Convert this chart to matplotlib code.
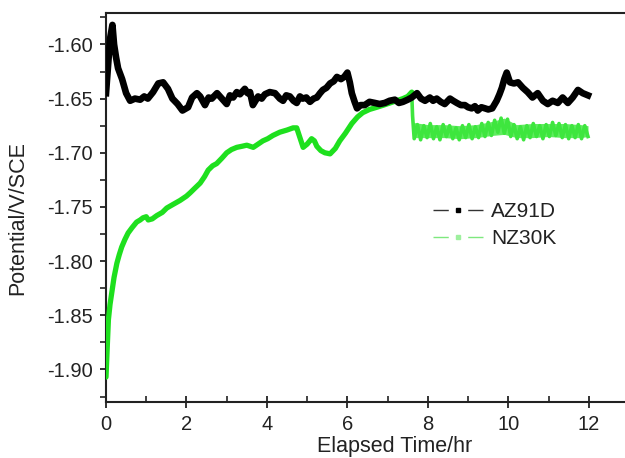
import matplotlib
matplotlib.use("Agg")
import matplotlib.pyplot as plt
from matplotlib.lines import Line2D
from matplotlib.ticker import MultipleLocator, FormatStrFormatter

plt.rcParams['font.family'] = ['Liberation Sans', 'DejaVu Sans']

az_t = [0, 0.05, 0.1, 0.16, 0.2, 0.25, 0.3, 0.4, 0.5, 0.6, 0.72, 0.85, 0.95, 1.04, 1.17, 1.3, 1.42,
        1.54, 1.65, 1.78, 1.9, 2.04, 2.14, 2.26, 2.34, 2.46, 2.55, 2.63, 2.76, 2.88, 3.0, 3.08, 3.16,
        3.25, 3.33, 3.45, 3.52, 3.58, 3.65, 3.78, 3.87, 3.95, 4.07, 4.2, 4.32, 4.4, 4.48, 4.57, 4.66,
        4.74, 4.82, 4.89, 4.98, 5.07, 5.16, 5.24, 5.32, 5.39, 5.48, 5.57, 5.66, 5.74, 5.84, 5.92, 6.0,
        6.06, 6.11, 6.18, 6.24, 6.33, 6.43, 6.55, 6.68, 6.8, 6.93, 7.05, 7.18, 7.28, 7.38, 7.5, 7.6,
        7.73, 7.83, 7.93, 8.05, 8.13, 8.22, 8.32, 8.42, 8.55, 8.63, 8.72, 8.82, 8.92, 9.0, 9.09, 9.17,
        9.24, 9.33, 9.42, 9.5, 9.6, 9.71, 9.78, 9.84, 9.9, 9.96, 10.04, 10.14, 10.24, 10.36, 10.48,
        10.6, 10.73, 10.86, 10.98, 11.1, 11.23, 11.35, 11.48, 11.6, 11.73, 11.85, 11.98]
az_v = [-1.645, -1.620, -1.595, -1.582, -1.600, -1.612, -1.622, -1.632, -1.645, -1.652, -1.650,
        -1.651, -1.648, -1.650, -1.644, -1.636, -1.635, -1.641, -1.650, -1.655, -1.661, -1.658,
        -1.649, -1.645, -1.648, -1.656, -1.649, -1.650, -1.645, -1.650, -1.655, -1.647, -1.649,
        -1.644, -1.646, -1.641, -1.645, -1.644, -1.656, -1.648, -1.650, -1.646, -1.644, -1.645,
        -1.650, -1.652, -1.647, -1.648, -1.652, -1.654, -1.648, -1.650, -1.649, -1.653, -1.650,
        -1.649, -1.645, -1.642, -1.640, -1.636, -1.634, -1.630, -1.632, -1.630, -1.626, -1.635,
        -1.645, -1.653, -1.659, -1.656, -1.656, -1.653, -1.654, -1.655, -1.654, -1.652, -1.651,
        -1.654, -1.653, -1.651, -1.649, -1.645, -1.650, -1.652, -1.649, -1.652, -1.650, -1.653,
        -1.655, -1.650, -1.652, -1.654, -1.656, -1.656, -1.658, -1.659, -1.657, -1.661, -1.658,
        -1.659, -1.660, -1.659, -1.652, -1.646, -1.640, -1.632, -1.626, -1.635, -1.636, -1.635,
        -1.640, -1.644, -1.649, -1.645, -1.652, -1.655, -1.652, -1.654, -1.649, -1.654, -1.649,
        -1.642, -1.645, -1.647]

nz_t = [0, 0.03, 0.06, 0.1, 0.14, 0.2, 0.27, 0.33, 0.39, 0.47, 0.55, 0.65, 0.76, 0.85, 0.92, 1.0,
        1.05, 1.15, 1.26, 1.4, 1.51, 1.65, 1.84, 2.0, 2.09, 2.2, 2.34, 2.45, 2.54, 2.65, 2.75, 2.88,
        3.0, 3.12, 3.25, 3.38, 3.5, 3.58, 3.66, 3.78, 3.9, 4.02, 4.15, 4.32, 4.5, 4.65, 4.74, 4.82,
        4.9, 5.0, 5.11, 5.18, 5.24, 5.34, 5.44, 5.57, 5.7, 5.81, 5.95, 6.11, 6.25, 6.38, 6.55, 6.73,
        6.9, 7.06, 7.22, 7.38, 7.5, 7.6]
nz_v = [-1.907, -1.880, -1.854, -1.840, -1.830, -1.815, -1.802, -1.794, -1.787, -1.780, -1.774,
        -1.769, -1.764, -1.762, -1.760, -1.759, -1.762, -1.761, -1.758, -1.755, -1.751, -1.748,
        -1.744, -1.740, -1.737, -1.733, -1.728, -1.722, -1.716, -1.712, -1.710, -1.705, -1.700,
        -1.697, -1.695, -1.694, -1.693, -1.694, -1.695, -1.692, -1.689, -1.687, -1.684, -1.681,
        -1.679, -1.677, -1.677, -1.686, -1.695, -1.692, -1.687, -1.689, -1.694, -1.698, -1.700,
        -1.701, -1.696, -1.689, -1.682, -1.673, -1.667, -1.663, -1.660, -1.658, -1.656, -1.654,
        -1.652, -1.650, -1.648, -1.644]

nzb_t = [7.6, 7.62, 7.66, 7.74, 7.82, 7.90, 7.98, 8.06, 8.14, 8.22, 8.30, 8.38, 8.46, 8.54, 8.62,
         8.70, 8.78, 8.86, 8.94, 9.02, 9.10, 9.18, 9.26, 9.34, 9.42, 9.50, 9.58, 9.66, 9.74, 9.82,
         9.90, 9.98, 10.06, 10.14, 10.22, 10.30, 10.38, 10.46, 10.54, 10.62, 10.70, 10.78, 10.86,
         10.94, 11.02, 11.10, 11.18, 11.26, 11.34, 11.42, 11.50, 11.58, 11.66, 11.74, 11.82, 11.90,
         11.98]
nzb_v = [-1.646, -1.666, -1.687, -1.674, -1.688, -1.675, -1.686, -1.673, -1.687, -1.676, -1.688,
         -1.674, -1.685, -1.675, -1.687, -1.677, -1.688, -1.675, -1.686, -1.674, -1.687, -1.676,
         -1.686, -1.673, -1.685, -1.672, -1.684, -1.670, -1.681, -1.668, -1.682, -1.669, -1.685,
         -1.674, -1.687, -1.676, -1.688, -1.675, -1.686, -1.673, -1.685, -1.675, -1.687, -1.674,
         -1.685, -1.672, -1.684, -1.673, -1.686, -1.674, -1.687, -1.675, -1.686, -1.674, -1.687,
         -1.675, -1.685]
# envelope of the band
nze_t = [7.64, 8.0, 8.4, 8.8, 9.2, 9.6, 9.9, 10.2, 10.6, 11.0, 11.4, 11.8, 11.98]
nze_hi = [-1.672, -1.674, -1.674, -1.675, -1.674, -1.671, -1.668, -1.674, -1.673, -1.673, -1.673, -1.674, -1.675]
nze_lo = [-1.686, -1.686, -1.686, -1.687, -1.686, -1.684, -1.683, -1.686, -1.686, -1.685, -1.686, -1.686, -1.685]

x_ticks = [0, 2, 4, 6, 8, 10, 12]
y_ticks = [-1.90, -1.85, -1.80, -1.75, -1.70, -1.65, -1.60]
labels = ['AZ91D', 'NZ30K']

W, H = 625, 458
fig = plt.figure(figsize=(W / 100, H / 100), dpi=100)
ax = fig.add_axes([106 / W, 1 - 402 / H, 1 - 106 / W, (402 - 13) / H])

green = '#1ee01e'
ax.fill_between(nze_t, nze_lo, nze_hi, color='#5fec5f', lw=0, zorder=1)
ax.plot(nzb_t, nzb_v, color='#3ee63e', lw=2.6, zorder=2, solid_joinstyle='round')
ax.plot(nz_t, nz_v, color=green, lw=3.8, zorder=3, solid_capstyle='round')
ax.plot(az_t, az_v, color='black', lw=4.8, zorder=4, solid_joinstyle='round')

ax.set_xlim(0, 12.9)
ax.set_ylim(-1.930, -1.571)
ax.set_xticks(x_ticks)
ax.set_yticks(y_ticks)
ax.yaxis.set_major_formatter(FormatStrFormatter('%.2f'))
ax.xaxis.set_minor_locator(MultipleLocator(1))
ax.yaxis.set_minor_locator(MultipleLocator(0.025))

for s in ['left', 'bottom', 'top']:
    ax.spines[s].set_linewidth(1.5)
    ax.spines[s].set_color('#222222')
ax.spines['right'].set_visible(False)

ax.tick_params(axis='y', which='major', direction='out', length=4.5, width=1.3, labelsize=14.5,
               pad=5, colors='#222222')
ax.tick_params(axis='y', which='minor', direction='out', length=4, width=1.2, colors='#222222')
ax.tick_params(axis='x', which='major', direction='inout', length=9, width=1.3, labelsize=14.5,
               pad=5, colors='#222222')
ax.tick_params(axis='x', which='minor', direction='in', length=4, width=1.2, colors='#222222')

ax.set_xlabel('Elapsed Time/hr', fontsize=15.5, color='#222222')
ax.set_ylabel('Potential/V/SCE', fontsize=15.5, color='#222222')
ax.xaxis.set_label_coords((395 - 106) / (W - 106), -(436 - 402) / (402 - 13), transform=ax.transAxes)
ax.yaxis.set_label_coords(-(106 - 28) / (W - 106), (402 - 218) / (402 - 13), transform=ax.transAxes)

h1 = Line2D([], [], color='#333333', lw=1.0, dashes=(11, 14), marker='s', markersize=3,
            markerfacecolor='black', markeredgecolor='black')
h2 = Line2D([], [], color='#7ee87e', lw=1.0, dashes=(11, 14), marker='s', markersize=3,
            markerfacecolor='#9ef09e', markeredgecolor='#9ef09e')
leg = ax.legend([h1, h2], labels, loc='upper left', frameon=False, fontsize=15,
                numpoints=1, handlelength=2.4, handletextpad=0.4, labelspacing=0.4,
                borderpad=0, borderaxespad=0,
                bbox_to_anchor=(433 / W, 1 - 202 / H), bbox_transform=fig.transFigure)
for t in leg.get_texts():
    t.set_color('#222222')

fig.savefig('out.png', dpi=100)
